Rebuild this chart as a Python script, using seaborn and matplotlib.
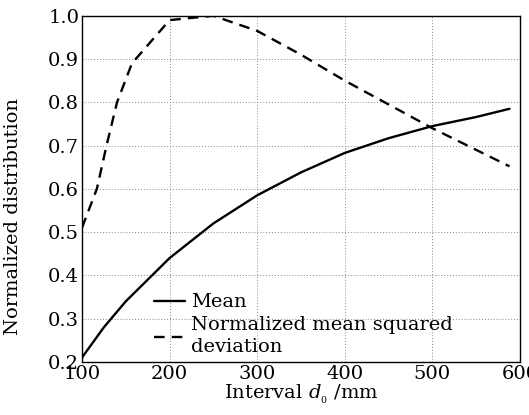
import numpy as np
import pandas as pd
import seaborn as sns
import matplotlib
matplotlib.use("Agg")
import matplotlib.pyplot as plt

# Data
mean_x = [100, 125, 150, 175, 200, 250, 300, 350, 400, 450, 500, 550, 588]
mean_y = [0.21, 0.28, 0.34, 0.39, 0.44, 0.52, 0.585, 0.638, 0.683, 0.717, 0.745, 0.766, 0.785]
dev_x = [100, 117, 128, 140, 157, 200, 250, 300, 350, 400, 450, 500, 550, 588]
dev_y = [0.51, 0.60, 0.70, 0.80, 0.89, 0.99, 1.0, 0.965, 0.91, 0.85, 0.795, 0.74, 0.69, 0.652]
labels = ["Mean", "Normalized mean squared\ndeviation"]

sns.set_theme(style="white")
plt.rcParams['font.family'] = ['DejaVu Serif']
plt.rcParams['mathtext.fontset'] = 'dejavuserif'

FS = 14
fig, ax = plt.subplots(figsize=(5.29, 4.15), dpi=100)
df1 = pd.DataFrame({"x": mean_x, "y": mean_y})
df2 = pd.DataFrame({"x": dev_x, "y": dev_y})
sns.lineplot(data=df1, x="x", y="y", ax=ax, color="black", lw=1.7, label=labels[0])
sns.lineplot(data=df2, x="x", y="y", ax=ax, color="black", lw=1.7, linestyle=(0, (4.5, 3)), label=labels[1])

ax.set_xlim(100, 600)
ax.set_ylim(0.2, 1.0)
ax.set_xticks([100, 200, 300, 400, 500, 600])
ax.set_yticks(np.arange(0.2, 1.01, 0.1))
ax.set_yticklabels([f"{v:.1f}" for v in np.arange(0.2, 1.01, 0.1)])
ax.tick_params(direction="in", length=3, labelsize=FS, colors="black", pad=2)
ax.grid(True, linestyle=(0, (1, 2)), color="#888888", lw=0.7)
for s in ax.spines.values():
    s.set_color("black")
    s.set_linewidth(1.0)
ax.set_xlabel("Interval $d_{_0}$ /mm", fontsize=FS, color="black", labelpad=0)
ax.set_ylabel("Normalized distribution", fontsize=FS, color="black")
ax.yaxis.set_label_coords(-0.138, 0.42)
leg = ax.legend(loc="lower left", bbox_to_anchor=(0.125, -0.035), frameon=False, fontsize=FS,
                handlelength=1.6, handletextpad=0.3, labelspacing=0.25, labelcolor="black")
for t in leg.get_texts():
    t.set_linespacing(1.3)
fig.subplots_adjust(left=0.155, right=0.983, top=0.962, bottom=0.128)
fig.savefig("out.png", dpi=100)
